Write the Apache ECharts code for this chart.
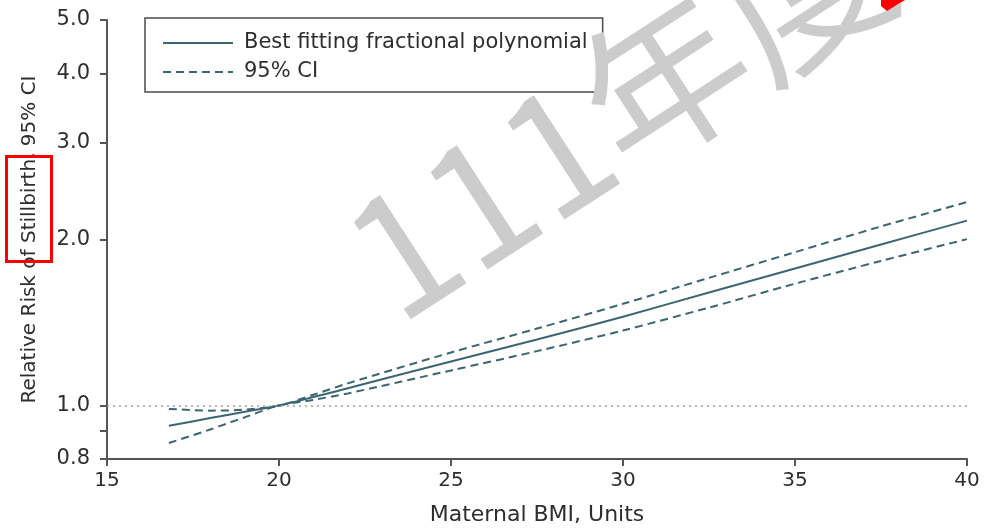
<!DOCTYPE html>
<html>
<head>
<meta charset="utf-8">
<title>Relative Risk of Stillbirth by Maternal BMI</title>
<script src="https://cdn.jsdelivr.net/npm/echarts@6/dist/echarts.min.js"></script>
<style>
  html, body { margin: 0; padding: 0; background: #ffffff; }
  #chart { width: 986px; height: 531px; }
</style>
</head>
<body>
<div id="chart"></div>
<script>
// Maternal BMI (units) at which the curves are sampled
const bmi = [16.8, 18, 19, 20, 21, 22, 25, 27.5, 30, 32.5, 35, 37.5, 40];
// Best fitting fractional polynomial (relative risk, reference BMI 20)
const rrFit = [0.919, 0.949, 0.974, 1.0, 1.036, 1.075, 1.202, 1.317, 1.449, 1.603, 1.772, 1.959, 2.164];
// 95% confidence limits
const ciUpper = [0.986, 0.979, 0.983, 1.0, 1.046, 1.097, 1.248, 1.379, 1.529, 1.704, 1.897, 2.112, 2.338];
const ciLower = [0.855, 0.905, 0.952, 1.0, 1.024, 1.052, 1.158, 1.255, 1.368, 1.505, 1.663, 1.829, 2.003];

// Axis ticks
const xTicks = [15, 20, 25, 30, 35, 40];
const yLabelValues = [0.8, 1.0, 2.0, 3.0, 4.0, 5.0];
const yTickValues = [0.8, 0.9, 1.0, 2.0, 3.0, 4.0, 5.0];

const lineColor = '#3b6571';
const axisColor = '#555555';
const textColor = '#2e2e2e';
const fontFamily = '"DejaVu Sans", "Noto Sans", sans-serif';

const pairs = (ys) => bmi.map((x, i) => [x, ys[i]]);

const chart = echarts.init(document.getElementById('chart'), null, { renderer: 'canvas' });

chart.setOption({
  animation: false,
  backgroundColor: '#ffffff',
  grid: { left: 107, right: 19, top: 20, bottom: 70, containLabel: false },
  legend: {
    left: 145,
    top: 18,
    orient: 'vertical',
    data: ['Best fitting fractional polynomial', '95% CI'],
    itemWidth: 70,
    itemHeight: 14,
    itemGap: 7,
    padding: [14, 15, 9, 17],
    borderColor: '#4a4a4a',
    borderWidth: 1.5,
    backgroundColor: '#ffffff',
    selectedMode: false,
    itemStyle: { opacity: 0 },
    textStyle: {
      fontFamily: fontFamily,
      fontSize: 21,
      color: textColor,
      lineHeight: 22,
      padding: [0, 0, 0, 6]
    }
  },
  xAxis: {
    type: 'value',
    min: 15,
    max: 40,
    interval: 5,
    name: 'Maternal BMI, Units',
    nameLocation: 'middle',
    nameGap: 45,
    nameTextStyle: { fontFamily: fontFamily, fontSize: 22, color: textColor },
    axisLine: { show: true, lineStyle: { color: axisColor, width: 2 } },
    axisTick: { show: true, length: 7, lineStyle: { color: axisColor, width: 2 } },
    axisLabel: {
      margin: 12,
      fontFamily: fontFamily,
      fontSize: 20,
      color: textColor,
      customValues: xTicks
    },
    splitLine: { show: false }
  },
  yAxis: {
    type: 'log',
    logBase: 10,
    min: 0.8,
    max: 5,
    name: 'Relative Risk of Stillbirth, 95% CI',
    nameLocation: 'middle',
    nameGap: 67,
    nameTextStyle: { fontFamily: fontFamily, fontSize: 20, color: textColor },
    axisLine: { show: true, lineStyle: { color: axisColor, width: 2 } },
    axisTick: { show: true, length: 7, lineStyle: { color: axisColor, width: 2 }, customValues: yTickValues },
    axisLabel: {
      margin: 17,
      fontFamily: fontFamily,
      fontSize: 21,
      color: textColor,
      customValues: yLabelValues,
      formatter: (v) => Number(v).toFixed(1)
    },
    splitLine: { show: false },
    minorTick: { show: false }
  },
  series: [
    {
      name: 'Best fitting fractional polynomial',
      type: 'line',
      data: pairs(rrFit),
      smooth: 0.3,
      symbol: 'none',
      lineStyle: { color: lineColor, width: 2, type: 'solid' },
      itemStyle: { color: lineColor },
      z: 3,
      markLine: {
        silent: true,
        symbol: 'none',
        label: { show: false },
        lineStyle: { color: '#a0a0a0', width: 1.5, type: [2, 4] },
        data: [{ yAxis: 1.0 }]
      }
    },
    {
      name: '95% CI',
      type: 'line',
      data: pairs(ciUpper),
      smooth: 0.3,
      symbol: 'none',
      lineStyle: { color: lineColor, width: 2, type: [8, 5] },
      itemStyle: { color: lineColor },
      z: 3
    },
    {
      name: '95% CI',
      type: 'line',
      data: pairs(ciLower),
      smooth: 0.3,
      symbol: 'none',
      lineStyle: { color: lineColor, width: 2, type: [8, 5] },
      itemStyle: { color: lineColor },
      z: 3
    }
  ],
  graphic: [
    // diagonal "111年度" stamp across the plot
    {
      type: 'text',
      x: 618,
      y: 110,
      rotation: 33 * Math.PI / 180,
      z: 100,
      style: {
        text: '111年度',
        fontFamily: '"Noto Sans CJK TC", "Noto Sans CJK SC", sans-serif',
        fontSize: 165,
        fill: '#cccccc',
        align: 'center',
        verticalAlign: 'middle'
      }
    },
    // red highlight frame around "Stillbirth,"
    {
      type: 'rect',
      z: 101,
      shape: { x: 6.5, y: 156.5, width: 45, height: 105 },
      style: { fill: 'none', stroke: '#ff0000', lineWidth: 3 }
    },
    // red corner mark at top edge
    {
      type: 'polygon',
      z: 101,
      shape: { points: [[881, 0], [905, 0], [887, 11], [881, 6]] },
      style: { fill: '#ff0000' }
    }
  ]
});
</script>
</body>
</html>
